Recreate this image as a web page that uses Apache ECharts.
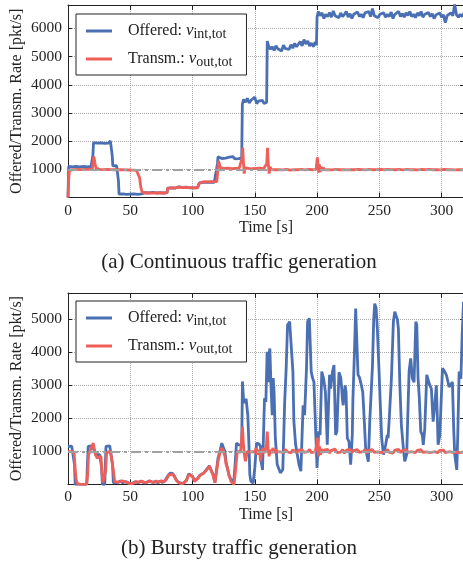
<!DOCTYPE html>
<html>
<head>
<meta charset="utf-8">
<script src="https://cdn.jsdelivr.net/npm/echarts@6/dist/echarts.min.js"></script>
<style>
html, body { margin: 0; padding: 0; background: #fff; }
#chart { width: 463px; height: 563px; }
</style>
</head>
<body>
<div id="chart"></div>
<script>
// tick labels
const timeTicks = [0, 50, 100, 150, 200, 250, 300];
const rateTicksA = [1000, 2000, 3000, 4000, 5000, 6000];
const rateTicksB = [1000, 2000, 3000, 4000, 5000];
const captions = ['(a) Continuous traffic generation', '(b) Bursty traffic generation'];
const targetRate = 1000;

// (a) continuous: [time s, pkt/s]
const offeredA = [
  [0, 0], [0.5, 1100], [2, 1130], [3.5, 1090], [5, 1120], [6.5, 1100], [8, 1140], [9.5, 1090], [11, 1120], [12.5, 1100],
  [14, 1130], [15.5, 1090], [17, 1110], [18.5, 1100], [19.5, 1120], [20, 1500], [20.5, 1950], [22, 1990], [23.5, 1930],
  [25, 1980], [26.5, 1940], [28, 2000], [29.5, 1920], [31, 1970], [32.5, 1930], [34, 2010], [35, 1960], [35.5, 1500],
  [36, 1120], [37.5, 1080], [39, 1130], [40, 1100], [40.5, 600], [41, 120], [42.5, 90], [44, 130], [45.5, 80], [47, 110],
  [48.5, 70], [50, 120], [51.5, 90], [53, 130], [54.5, 80], [56, 110], [57.5, 90], [59, 130], [60, 100], [60.5, 150],
  [62, 170], [63.5, 140], [65, 160], [66.5, 150], [68, 180], [69.5, 140], [71, 160], [72.5, 150], [74, 170], [75.5, 140],
  [77, 160], [78.5, 150], [79.5, 170], [80, 330], [81.5, 360], [83, 340], [84.5, 370], [86, 330], [87.5, 350], [89, 380],
  [90.5, 340], [92, 360], [93.5, 330], [95, 370], [96.5, 350], [98, 340], [99.5, 380], [101, 340], [102.5, 360], [104, 350],
  [105, 370], [105.5, 520], [107, 560], [108.5, 540], [110, 580], [111.5, 540], [113, 570], [114.5, 550], [116, 560],
  [117.5, 540], [119, 570], [119.5, 560], [120, 1200], [120.5, 1450], [122, 1420], [123.5, 1380], [125, 1450], [126.5, 1400],
  [128, 1360], [129.5, 1430], [131, 1390], [132.5, 1450], [134, 1370], [135.5, 1420], [137, 1380], [138.5, 1440], [139.5, 1400],
  [140, 3300], [141, 3480], [142.5, 3380], [144, 3520], [145.5, 3350], [147, 3450], [148.5, 3380], [150, 3560], [151.5, 3330],
  [153, 3420], [154.5, 3370], [156, 3450], [157.5, 3330], [159, 3400], [159.5, 3380], [160, 5550], [161, 5380], [162.5, 5260],
  [164, 5350], [165.5, 5220], [167, 5380], [168.5, 5280], [170, 5330], [171.5, 5200], [173, 5400], [174.5, 5290], [176, 5350],
  [177.5, 5250], [179, 5420], [180.5, 5300], [182, 5470], [183.5, 5350], [185, 5420], [186.5, 5530], [188, 5380], [189.5, 5600],
  [191, 5450], [192.5, 5550], [194, 5380], [195.5, 5480], [197, 5350], [198.5, 5520], [199.5, 5400], [200, 6400], [201, 6600],
  [202.5, 6450], [204, 6550], [205.5, 6350], [207, 6500], [208.5, 6420], [210, 6560], [211.5, 6400], [213, 6620], [214.5, 6450],
  [216, 6500], [217.5, 6380], [219, 6550], [220.5, 6420], [222, 6500], [223.5, 6600], [225, 6400], [226.5, 6520], [228, 6350],
  [229.5, 6500], [231, 6450], [232.5, 6580], [234, 6420], [235.5, 6500], [237, 6380], [238.5, 6550], [240, 6480], [241.5, 6600],
  [243, 6420], [244.5, 6700], [246, 6450], [247.5, 6520], [249, 6380], [250.5, 6500], [252, 6430], [253.5, 6550], [255, 6400],
  [256.5, 6500], [258, 6420], [259.5, 6580], [261, 6350], [262.5, 6500], [264, 6450], [265.5, 6600], [267, 6420], [268.5, 6520],
  [270, 6400], [271.5, 6550], [273, 6460], [274.5, 6600], [276, 6420], [277.5, 6500], [279, 6380], [280.5, 6550], [282, 6450],
  [283.5, 6600], [285, 6400], [286.5, 6500], [288, 6430], [289.5, 6560], [291, 6420], [292.5, 6520], [294, 6350], [295.5, 6480],
  [297, 6420], [298.5, 6550], [300, 6400], [301.5, 6480], [303, 6200], [304.5, 6450], [306, 6400], [307.5, 6550], [309, 6450],
  [310.5, 6850], [312, 6480], [313.5, 6400], [315, 6500], [316.5, 6420], [318, 6550]
];
const transmA = [
  [0, 0], [0.5, 600], [1, 900], [2, 980], [3.5, 1000], [5, 990], [6.5, 1010], [8, 995], [9.5, 1005], [11, 990], [12.5, 1010],
  [14, 1000], [15.5, 990], [17, 1005], [18.5, 995], [19.5, 1000], [20, 1200], [20.8, 1460], [21.5, 1250], [22.5, 1040],
  [24, 1010], [25.5, 1000], [27, 1010], [28.5, 990], [30, 1005], [31.5, 995], [33, 1010], [34.5, 990], [36, 1000], [37.5, 985],
  [39, 1000], [40.5, 990], [42, 995], [43.5, 985], [45, 995], [46.5, 980], [48, 990], [49.5, 975], [51, 985], [52.5, 970],
  [54, 980], [55, 960], [56.5, 900], [57.5, 700], [58.5, 350], [59.5, 200], [60.5, 170], [62, 160], [63.5, 175], [65, 165],
  [66.5, 170], [68, 155], [69.5, 170], [71, 160], [72.5, 175], [74, 165], [75.5, 170], [77, 160], [78.5, 175], [79.5, 170],
  [80, 320], [81.5, 350], [83, 340], [84.5, 360], [86, 340], [87.5, 350], [89, 370], [90.5, 340], [92, 355], [93.5, 340],
  [95, 360], [96.5, 345], [98, 350], [99.5, 365], [101, 340], [102.5, 355], [104, 345], [105, 360], [105.5, 500], [106.5, 540],
  [108, 550], [109.5, 540], [111, 560], [112.5, 545], [114, 555], [115.5, 545], [117, 560], [118.5, 550], [119.5, 560],
  [120, 800], [120.8, 1300], [121.5, 1200], [122.5, 1050], [124, 990], [125.5, 1030], [127, 980], [128.5, 1040], [130, 990],
  [131.5, 1020], [133, 970], [134.5, 1030], [136, 1000], [137.5, 1040], [139, 980], [139.8, 1400], [140.3, 1770], [140.8, 1300],
  [141.5, 850], [142.3, 1050], [143.5, 980], [145, 1030], [146.5, 990], [148, 1020], [149.5, 980], [151, 1030], [152.5, 1000],
  [154, 1040], [155.5, 990], [157, 1020], [158.5, 980], [159.6, 1200], [160.2, 1760], [160.8, 1250], [161.5, 850], [162.3, 1080],
  [163.5, 990], [165, 1030], [166.5, 985], [168, 1020], [169.5, 990], [171, 1040], [172.5, 980], [174, 1020], [175.5, 1000],
  [177, 1030], [178.5, 975], [180, 1020], [181.5, 990], [183, 1040], [184.5, 985], [186, 1020], [187.5, 995], [189, 1030],
  [190.5, 980], [192, 1020], [193.5, 1000], [195, 1030], [196.5, 985], [198, 1010], [199.3, 1000], [199.8, 1250], [200.3, 1420],
  [200.8, 1150], [201.3, 880], [201.8, 1180], [202.5, 900], [203.2, 1100], [204, 950], [205, 1060], [206, 980], [207.5, 1030],
  [209, 990], [210.5, 1040], [212, 980], [213.5, 1030], [215, 1000], [216.5, 1040], [218, 985], [219.5, 1020], [221, 990],
  [222.5, 1035], [224, 980], [225.5, 1010], [227, 990], [228.5, 1030], [230, 985], [231.5, 1020], [233, 1000], [234.5, 1030],
  [236, 990], [237.5, 1020], [239, 980], [240.5, 1010], [242, 1000], [243.5, 1030], [245, 985], [246.5, 1010], [248, 990],
  [249.5, 1020], [251, 1000], [252.5, 1030], [254, 985], [255.5, 1020], [257, 995], [258.5, 1010], [260, 990], [261.5, 1030],
  [263, 985], [264.5, 1020], [266, 1000], [267.5, 1040], [269, 980], [270.5, 1030], [272, 995], [273.5, 1040], [275, 985],
  [276.5, 1020], [278, 990], [279.5, 1040], [281, 980], [282.5, 1030], [284, 995], [285.5, 1040], [287, 985], [288.5, 1020],
  [290, 1000], [291.5, 1040], [293, 985], [294.5, 1030], [296, 990], [297.5, 1040], [299, 980], [300.5, 1020], [302, 995],
  [303.5, 1030], [305, 985], [306.5, 1040], [308, 990], [309.5, 1020], [311, 980], [312.5, 1040], [314, 990], [315.5, 1030],
  [317, 985], [318, 1010]
];

// (b) bursty: [time s, pkt/s]
const offeredB = [
  [0, 1150], [1.5, 1120], [3, 1160], [4.5, 1130], [5.2, 600], [5.8, 0], [10, 0], [15, 0], [15.6, 600], [16.2, 1150],
  [17.5, 1120], [19, 1170], [20.5, 1150], [21.5, 1000], [22.5, 900], [24, 880], [25.5, 900], [26.5, 950], [27, 500], [27.6, 0],
  [29.5, 0], [30, 600], [30.5, 1150], [32, 1130], [33.5, 1170], [35, 1140], [35.8, 600], [36.4, 50], [38, 80], [40, 60],
  [42, 100], [44, 50], [46, 90], [48, 60], [50, 20], [52, 40], [54, 80], [56, 50], [58, 90], [60, 70], [62, 40], [64, 80],
  [66, 100], [68, 60], [70, 90], [72, 50], [74, 100], [76, 60], [78, 120], [80, 250], [82, 340], [84, 330], [85.5, 250],
  [87, 130], [89, 60], [91, 30], [93, 50], [95, 120], [97, 320], [98.5, 370], [100, 250], [101.5, 100], [103, 60], [104.5, 200],
  [106, 280], [107.5, 220], [109, 350], [110.5, 420], [112, 480], [113.5, 560], [115, 530], [116.5, 300], [118, 60], [119, 20],
  [120.5, 800], [122, 1000], [123.5, 1250], [125, 1300], [126, 1000], [127, 650], [128, 500], [129.5, 250], [131, 150],
  [133, 40], [134.2, 600], [135.3, 1250], [137, 1200], [138.5, 1250], [139.5, 1200], [140.1, 3120], [140.9, 2600], [142, 2460],
  [143, 2600], [143.9, 2550], [144.4, 2100], [145.3, 1200], [146, 300], [146.8, 100], [148.7, 40], [150, 500], [151.4, 1250],
  [152.5, 1300], [153.5, 1220], [154.6, 1150], [155.1, 700], [156.2, 440], [157, 1500], [157.8, 2610], [158.9, 2500],
  [159.9, 4020], [160.8, 3100], [161.4, 3900], [162.1, 4120], [163, 3000], [164, 2100], [164.8, 3220], [165.5, 2800],
  [166.5, 1400], [168, 600], [170.5, 350], [172.5, 450], [174, 2500], [175.2, 3520], [176.3, 4830], [178, 4930], [179.5, 4880],
  [180.6, 3420], [181.4, 1900], [182.8, 1200], [185.5, 600], [187, 400], [188.8, 2400], [190, 2100], [191.5, 3500],
  [192.4, 4930], [193.8, 5030], [195.3, 3420], [196.2, 3250], [197.5, 3100], [198.8, 1700], [200, 500], [201.3, 1600],
  [202.4, 1500], [203.8, 3420], [205.3, 3200], [206.7, 2800], [208.2, 1200], [210, 3320], [210.9, 2900], [212.3, 3400],
  [213.6, 3620], [214.9, 1500], [215.9, 1600], [217.6, 3400], [219, 3250], [219.8, 2900], [220.3, 2600], [221, 2400],
  [222.5, 3000], [223.3, 2800], [224.3, 1400], [225.6, 1300], [227, 600], [228.3, 1500], [228.8, 2600], [229.7, 3620],
  [230.5, 4600], [231, 5330], [231.8, 5280], [232.9, 3320], [234, 3250], [235.6, 3000], [236.7, 2800], [237.7, 2100],
  [239, 1100], [240, 900], [241.2, 690], [242.3, 1900], [243.6, 2900], [244.5, 3600], [245.5, 5000], [246.3, 5480],
  [247.4, 5350], [248.4, 4730], [249.8, 3420], [250.6, 2600], [251.9, 1400], [253.3, 900], [255.1, 1200], [256.4, 1500],
  [257, 1400], [258, 2000], [259.7, 3200], [261.3, 4930], [262.4, 5230], [263.6, 5100], [264.5, 5000], [265.3, 4730],
  [266.4, 3120], [267.7, 1800], [269.3, 1100], [270.4, 700], [272, 900], [272.5, 1600], [273.9, 3420], [275.2, 3820],
  [276.5, 3220], [277.9, 3100], [279.3, 4930], [280.1, 4830], [281.1, 3220], [282, 2700], [283.3, 1600], [284.5, 1500],
  [285.3, 1200], [286.5, 1700], [288.1, 3320], [290, 3060], [291.8, 2900], [293.2, 1900], [294.5, 2400], [295.8, 3000],
  [296.7, 1900], [297.2, 1200], [298.6, 1500], [300.7, 3520], [302.5, 3420], [304, 3300], [306, 2950], [308.7, 3100],
  [309.8, 1600], [310.6, 900], [312.2, 440], [313, 1500], [314.1, 3420], [315.5, 3200], [316.5, 4500], [317.6, 5530], [318, 5400]
];
const transmB = [
  [0, 1000], [2, 990], [4, 1000], [5, 900], [5.7, 500], [6.5, 150], [7.5, 20], [10, 0], [15, 0], [15.8, 300], [16.5, 900],
  [17.5, 1000], [19, 1050], [20.3, 1250], [21, 1200], [22, 900], [23.5, 800], [25, 780], [26.5, 850], [27.2, 400], [28, 50],
  [29.5, 30], [30.2, 400], [31, 950], [32.5, 1000], [34, 1010], [35.5, 950], [36.5, 400], [37.5, 80], [39, 120], [41, 70],
  [43, 110], [45, 90], [47, 60], [49, 30], [51, 20], [53, 40], [55, 90], [57, 60], [59, 100], [61, 70], [63, 50], [65, 110],
  [67, 80], [69, 60], [71, 100], [73, 60], [75, 110], [77, 70], [79, 150], [81, 280], [82.5, 340], [84, 310], [85.5, 230],
  [87, 120], [89, 50], [91, 20], [93, 40], [95, 110], [97, 300], [98.5, 360], [100, 240], [101.5, 90], [103, 50], [104.5, 190],
  [106, 270], [107.5, 210], [109, 340], [110.5, 400], [112, 470], [113.5, 550], [115, 510], [116.5, 280], [118, 50], [119, 10],
  [120.5, 700], [122, 950], [123.5, 1100], [125, 1000], [126, 850], [127, 600], [128, 500], [129.5, 250], [131, 80], [133.3, 0],
  [134.5, 400], [135.9, 1000], [137, 1050], [138.5, 980], [139.3, 1300], [140.1, 1750], [140.8, 1250], [141.6, 900],
  [142.5, 700], [143.9, 1000], [145, 1050], [146, 980], [147, 1030], [148, 990], [149, 1040], [150, 980], [151, 1100],
  [152, 900], [153, 1050], [154, 950], [154.6, 700], [155.5, 1000], [156.5, 1100], [157.5, 950], [158.6, 1050], [159.4, 1250],
  [160, 1600], [160.7, 1100], [161.5, 850], [162.5, 1050], [163.5, 950], [164.5, 1100], [165.4, 1150], [166.2, 950], [167, 1050],
  [168, 980], [169, 1030], [170, 990], [171.5, 1040], [173, 960], [174.5, 1060], [176, 990], [177.5, 1030], [179, 950],
  [180.5, 1050], [182, 1000], [183.5, 960], [185, 1040], [186.5, 980], [188, 1050], [189.5, 970], [191, 1030], [192.5, 990],
  [194, 1060], [195.5, 960], [197, 1020], [198.5, 990], [199.7, 1200], [200.2, 1420], [200.8, 1100], [201.3, 850], [202, 1150],
  [202.8, 900], [203.5, 1080], [204.3, 960], [205.5, 1040], [207, 980], [208.5, 1060], [210, 950], [211.5, 1030], [213, 990],
  [214.5, 1070], [216, 960], [217.5, 1020], [219, 980], [220.5, 1050], [222, 940], [223.5, 1040], [225, 990], [226.5, 1060],
  [228, 960], [229.5, 1030], [231, 980], [232.5, 1050], [234, 970], [235.5, 1020], [237, 990], [238.5, 1060], [240, 950],
  [241.5, 1030], [243, 990], [244.5, 1050], [246, 970], [247.5, 1030], [249, 985], [250.5, 1040], [252, 960], [253.5, 1020],
  [255, 990], [256.5, 1060], [258, 970], [259.5, 1030], [261, 950], [262.5, 1040], [264, 990], [265.5, 1060], [267, 960],
  [268.5, 1030], [270, 985], [271.5, 1050], [273, 970], [274.5, 1020], [276, 990], [277.5, 1040], [279, 960], [280.5, 1030],
  [282, 995], [283.5, 1050], [285, 970], [286.5, 1030], [288, 985], [289.5, 1040], [291, 960], [292.5, 1020], [294, 990],
  [295.5, 1050], [297, 965], [298.5, 1030], [300, 990], [301.5, 1040], [303, 960], [304.5, 1020], [306, 990], [307.5, 1050],
  [309, 970], [310.5, 1030], [312, 980], [313.5, 1040], [315, 965], [316.5, 1020], [318, 990]
];

const font = "'Liberation Serif', 'DejaVu Serif', serif";
const ink = '#222';
const blue = '#4a6fb3';
const red = '#ef5f59';

const tickFormatter = ticks => v => ticks.includes(v) ? String(v) : '';

const bottomAxis = (gridIndex) => ({
  gridIndex, type: 'value', min: 0, max: 318, interval: 50, position: 'bottom',
  name: 'Time [s]', nameLocation: 'middle', nameGap: 22,
  nameTextStyle: { fontFamily: font, fontSize: 16, color: ink },
  axisLine: { onZero: false, lineStyle: { color: ink, width: 1 } },
  axisTick: { inside: true, length: 5, lineStyle: { color: ink } },
  axisLabel: { margin: 5, fontFamily: font, fontSize: 15.5, color: ink, formatter: tickFormatter(timeTicks) },
  splitLine: { show: true, lineStyle: { type: 'dotted', color: '#aaa', width: 1 } }
});
const topAxis = (gridIndex) => ({
  gridIndex, type: 'value', min: 0, max: 318, interval: 50, position: 'top',
  axisLine: { onZero: false, lineStyle: { color: ink, width: 1 } },
  axisTick: { inside: true, length: 5, lineStyle: { color: ink } },
  axisLabel: { show: false }, splitLine: { show: false }
});
const leftAxis = (gridIndex, max, ticks) => ({
  gridIndex, type: 'value', min: 0, max, interval: 1000, position: 'left',
  name: 'Offered/Transm. Rate [pkt/s]', nameLocation: 'middle', nameGap: 43, nameMoveOverlap: false,
  nameTextStyle: { fontFamily: font, fontSize: 16, color: ink },
  axisLine: { show: true, onZero: false, lineStyle: { color: ink, width: 1 } },
  axisTick: { show: true, inside: true, length: 4, lineStyle: { color: ink } },
  axisLabel: { margin: 6, fontFamily: font, fontSize: 15.5, color: ink, formatter: tickFormatter(ticks) },
  splitLine: { show: true, lineStyle: { type: 'dotted', color: '#aaa', width: 1 } }
});
const rightAxis = (gridIndex, max) => ({
  gridIndex, type: 'value', min: 0, max, interval: 1000, position: 'right',
  axisLine: { show: true, onZero: false, lineStyle: { color: ink, width: 1 } },
  axisTick: { show: true, inside: true, length: 4, lineStyle: { color: ink } },
  axisLabel: { show: false }, splitLine: { show: false }
});

const legendBox = (top) => ({
  orient: 'vertical', left: 76, top,
  data: ['Offered', 'Transm.'],
  icon: 'rect', itemWidth: 26, itemHeight: 3, itemGap: 8,
  padding: [7, 14, 6, 10],
  borderColor: ink, borderWidth: 1, borderRadius: 0, backgroundColor: '#fff',
  formatter: name => name === 'Offered' ? 'Offered: {v|v}{s|int,tot}' : 'Transm.: {v|v}{s|out,tot}',
  textStyle: {
    fontFamily: font, fontSize: 16, color: ink, padding: [0, 0, 0, 11], lineHeight: 20,
    rich: {
      v: { fontFamily: font, fontSize: 17, fontStyle: 'italic', color: ink, lineHeight: 20 },
      s: { fontFamily: font, fontSize: 14, color: ink, lineHeight: 12, verticalAlign: 'bottom' }
    }
  }
});

const refLine = {
  silent: true, symbol: 'none', label: { show: false },
  lineStyle: { color: '#a0a0a0', type: [10, 4, 3, 4], width: 2 },
  data: [{ yAxis: targetRate }]
};

const lineSeries = (name, data, color, xi, yi, extra) => Object.assign({
  name, type: 'line', data, xAxisIndex: xi, yAxisIndex: yi,
  showSymbol: false, symbol: 'none', color,
  lineStyle: { color, width: 2.8 }
}, extra || {});

const chart = echarts.init(document.getElementById('chart'));
chart.setOption({
  animation: false,
  backgroundColor: '#fff',
  title: [
    { text: captions[0], left: 239, top: 252, textAlign: 'center', padding: 0,
      textStyle: { fontFamily: font, fontSize: 21, fontWeight: 'normal', color: ink } },
    { text: captions[1], left: 239, top: 538, textAlign: 'center', padding: 0,
      textStyle: { fontFamily: font, fontSize: 21, fontWeight: 'normal', color: ink } }
  ],
  grid: [
    { left: 68, top: 5, right: -1, height: 192.5, outerBoundsMode: 'none' },
    { left: 68, top: 293, right: -1, height: 191.4, outerBoundsMode: 'none' }
  ],
  legend: [legendBox(14), legendBox(301)],
  xAxis: [bottomAxis(0), topAxis(0), bottomAxis(1), topAxis(1)],
  yAxis: [leftAxis(0, 6830, rateTicksA), rightAxis(0, 6830), leftAxis(1, 5800, rateTicksB), rightAxis(1, 5800)],
  series: [
    lineSeries('Offered', offeredA, blue, 0, 0, { markLine: refLine }),
    lineSeries('Transm.', transmA, red, 0, 0),
    lineSeries('Offered', offeredB, blue, 2, 2, { markLine: refLine }),
    lineSeries('Transm.', transmB, red, 2, 2)
  ]
});
window.addEventListener('resize', () => chart.resize());
</script>
</body>
</html>
